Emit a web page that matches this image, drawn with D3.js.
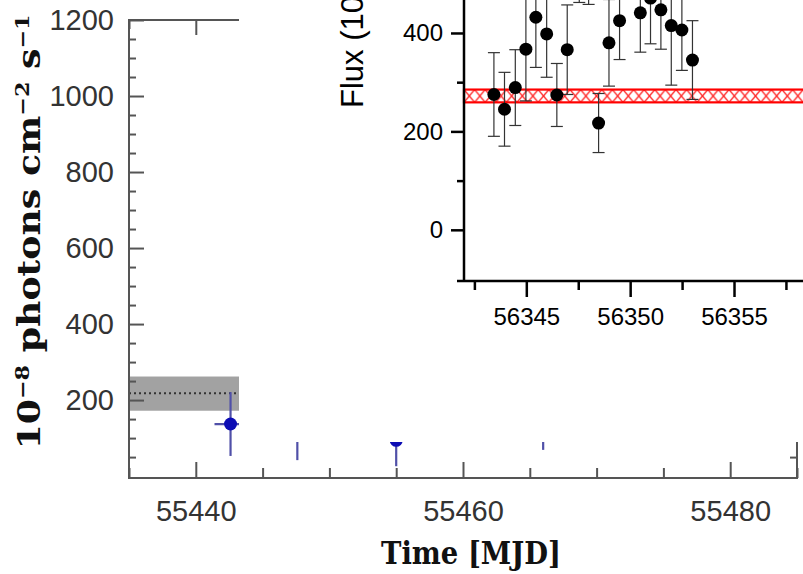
<!DOCTYPE html>
<html>
<head>
<meta charset="utf-8">
<script src="https://cdn.jsdelivr.net/npm/d3@7"></script>
<style>
  body { margin: 0; background: #fff; }
  svg { display: block; }
</style>
</head>
<body>
<div id="root"></div>
<script>
// ---- main light curve (left, MJD 55435 - 55485) ----
var mainTime = [55442.6, 55447.6, 55455.0, 55466.0];
var mainFlux = [137, 115, 94, 125];
var mainErr = [84, 73, 68, 56];
var mainTimeErr = [1.2, 1.2, 1.2, 1.2];
var meanFlux = 218;
var meanBand = [172, 262];
var mainXTicks = [55440, 55460, 55480];
var mainXMinor = [55435, 55445, 55450, 55455, 55465, 55470, 55475, 55485];
var mainYTicks = [200, 400, 600, 800, 1000, 1200];
var mainYMinor = [50, 100, 150, 250, 300, 350, 450, 500, 550, 650, 700, 750, 850, 900, 950, 1050, 1100, 1150];

// ---- inset (top right, MJD 56342 - 56359) ----
var insetTime = [56343.44, 56343.95, 56344.47, 56344.98, 56345.46, 56345.98, 56346.47, 56346.97, 56347.55,
  56348.0, 56348.48, 56348.98, 56349.49, 56350.49, 56350.98, 56351.48, 56351.98, 56352.49, 56353.0];
var insetFlux = [275, 245, 289, 367, 432, 398, 274, 366, 560, 550, 217, 380, 425, 441, 471, 447, 415, 406, 345];
var insetErr = [85, 75, 77, 105, 102, 88, 64, 91, 98, 92, 60, 88, 79, 80, 93, 80, 121, 82, 80];
var insetBand = [259, 285];
var insetXTicks = [56345, 56350, 56355];
var insetXMinor = [56342.5, 56347.5, 56352.5, 56357.5];
var insetYTicks = [0, 200, 400];
var insetYMinor = [100, 300];

var width = 803;
var height = 574;

var svg = d3.select('#root')
  .append('svg')
    .attr('width', width)
    .attr('height', height);

// main scales
var x = d3.scaleLinear().domain([55435, 55485]).range([129, 797]);
var y = d3.scaleLinear().domain([-5, 1200]).range([478, 20]);

var axisColor = '#555';
var sans = 'Liberation Sans, Arial, sans-serif';
var serif = 'DejaVu Serif, serif';
var plain = d3.format('d');

// mean flux band + dotted line
svg.append('rect')
  .attr('x', x(55435))
  .attr('y', y(meanBand[1]))
  .attr('width', x(55485) - x(55435))
  .attr('height', y(meanBand[0]) - y(meanBand[1]))
  .attr('fill', '#a2a2a2');

svg.append('line')
  .attr('x1', x(55435)).attr('x2', x(55485))
  .attr('y1', y(meanFlux)).attr('y2', y(meanFlux))
  .attr('stroke', '#333')
  .attr('stroke-width', 2)
  .attr('stroke-dasharray', '2,3');

// blue points
var mainData = mainTime.map(function(d, i) {
  return { t: d, f: mainFlux[i], e: mainErr[i], te: mainTimeErr[i] };
});

var pts = svg.append('g');
pts.selectAll('line.ve')
  .data(mainData)
  .enter().append('line')
    .attr('x1', function(d) { return x(d.t); })
    .attr('x2', function(d) { return x(d.t); })
    .attr('y1', function(d) { return y(d.f - d.e); })
    .attr('y2', function(d) { return y(d.f + d.e); })
    .attr('stroke', '#5050a8')
    .attr('stroke-width', 2.2);
pts.selectAll('line.he')
  .data(mainData)
  .enter().append('line')
    .attr('x1', function(d) { return x(d.t - d.te); })
    .attr('x2', function(d) { return x(d.t + d.te); })
    .attr('y1', function(d) { return y(d.f); })
    .attr('y2', function(d) { return y(d.f); })
    .attr('stroke', '#5050a8')
    .attr('stroke-width', 2.2);
pts.selectAll('circle')
  .data(mainData)
  .enter().append('circle')
    .attr('cx', function(d) { return x(d.t); })
    .attr('cy', function(d) { return y(d.f); })
    .attr('r', 6.5)
    .attr('fill', '#0c0cb4');

// frame
svg.append('rect')
  .attr('x', 129).attr('y', 20)
  .attr('width', 797 - 129).attr('height', 478 - 20)
  .attr('fill', 'none')
  .attr('stroke', axisColor)
  .attr('stroke-width', 2);

function styleAxis(g, color, w) {
  g.select('.domain').remove();
  g.selectAll('.tick line').attr('stroke', color).attr('stroke-width', w);
  g.selectAll('.tick text').attr('fill', color === axisColor ? '#333' : '#000');
}

// main axes, ticks pointing inward
var gl = svg.append('g').attr('transform', 'translate(129,0)')
  .call(d3.axisLeft(y).tickValues(mainYTicks).tickFormat(plain).tickSize(-15).tickPadding(15))
  .attr('font-family', sans).attr('font-size', 29);
styleAxis(gl, axisColor, 2);
styleAxis(svg.append('g').attr('transform', 'translate(129,0)')
  .call(d3.axisLeft(y).tickValues(mainYMinor).tickSize(-7).tickFormat('')), axisColor, 2);
styleAxis(svg.append('g').attr('transform', 'translate(797,0)')
  .call(d3.axisRight(y).tickValues(mainYTicks).tickSize(-15).tickFormat('')), axisColor, 2);
styleAxis(svg.append('g').attr('transform', 'translate(797,0)')
  .call(d3.axisRight(y).tickValues(mainYMinor).tickSize(-7).tickFormat('')), axisColor, 2);

var gb = svg.append('g').attr('transform', 'translate(0,478)')
  .call(d3.axisBottom(x).tickValues(mainXTicks).tickFormat(plain).tickSize(-16).tickPadding(22))
  .attr('font-family', sans).attr('font-size', 29);
styleAxis(gb, axisColor, 2);
styleAxis(svg.append('g').attr('transform', 'translate(0,478)')
  .call(d3.axisBottom(x).tickValues(mainXMinor).tickSize(-10).tickFormat('')), axisColor, 2);
styleAxis(svg.append('g').attr('transform', 'translate(0,20)')
  .call(d3.axisTop(x).tickValues(mainXTicks).tickSize(-15).tickFormat('')), axisColor, 2);
styleAxis(svg.append('g').attr('transform', 'translate(0,20)')
  .call(d3.axisTop(x).tickValues(mainXMinor).tickSize(-9).tickFormat('')), axisColor, 2);

// main axis titles
svg.append('text')
  .attr('x', 471).attr('y', 564)
  .attr('text-anchor', 'middle')
  .attr('font-family', serif).attr('font-weight', 'bold')
  .attr('font-size', 31)
  .attr('textLength', 180).attr('lengthAdjust', 'spacingAndGlyphs')
  .attr('fill', '#111')
  .text('Time [MJD]');

var yl = svg.append('text')
  .attr('transform', 'translate(40,232) rotate(-90)')
  .attr('text-anchor', 'middle')
  .attr('font-family', serif).attr('font-weight', 'bold')
  .attr('font-size', 31)
  .attr('textLength', 435).attr('lengthAdjust', 'spacingAndGlyphs')
  .attr('fill', '#111');
yl.append('tspan').text('10');
yl.append('tspan').attr('dy', -11).attr('font-size', 19).text('\u22128');
yl.append('tspan').attr('dy', 11).text(' photons cm');
yl.append('tspan').attr('dy', -11).attr('font-size', 19).text('\u22122');
yl.append('tspan').attr('dy', 11).text(' s');
yl.append('tspan').attr('dy', -11).attr('font-size', 19).text('\u22121');

// ---- inset ----
svg.append('rect')
  .attr('x', 239).attr('y', 0)
  .attr('width', width - 239).attr('height', 442)
  .attr('fill', '#fff');

var xi = d3.scaleLinear().domain([56342, 56359]).range([464, 464 + 17 * 20.77]);
var yi = d3.scaleLinear().domain([-104, 467]).range([281, 0]);

var defs = svg.append('defs');
var bandTop = yi(insetBand[1]);
var bandH = yi(insetBand[0]) - yi(insetBand[1]);
var pat = defs.append('pattern')
  .attr('id', 'xhatch')
  .attr('patternUnits', 'userSpaceOnUse')
  .attr('x', 464).attr('y', bandTop)
  .attr('width', 10.6).attr('height', bandH);
pat.append('path')
  .attr('d', 'M0,0L10.6,' + bandH + 'M10.6,0L0,' + bandH)
  .attr('stroke', '#ff1a1a')
  .attr('stroke-width', 1.3)
  .attr('fill', 'none');

svg.append('rect')
  .attr('x', 464).attr('y', bandTop)
  .attr('width', width - 464 + 5).attr('height', bandH)
  .attr('fill', 'url(#xhatch)')
  .attr('stroke', '#f00')
  .attr('stroke-width', 2.2);

var insetData = insetTime.map(function(d, i) {
  return { t: d, f: insetFlux[i], e: insetErr[i] };
});

var ig = svg.append('g');
var bars = ig.selectAll('g.bar')
  .data(insetData)
  .enter().append('g')
    .attr('stroke', '#333')
    .attr('stroke-width', 1.2);
bars.append('line')
  .attr('x1', function(d) { return xi(d.t); })
  .attr('x2', function(d) { return xi(d.t); })
  .attr('y1', function(d) { return yi(d.f - d.e); })
  .attr('y2', function(d) { return yi(d.f + d.e); });
bars.append('line')
  .attr('x1', function(d) { return xi(d.t) - 6; })
  .attr('x2', function(d) { return xi(d.t) + 6; })
  .attr('y1', function(d) { return yi(d.f - d.e); })
  .attr('y2', function(d) { return yi(d.f - d.e); });
bars.append('line')
  .attr('x1', function(d) { return xi(d.t) - 6; })
  .attr('x2', function(d) { return xi(d.t) + 6; })
  .attr('y1', function(d) { return yi(d.f + d.e); })
  .attr('y2', function(d) { return yi(d.f + d.e); });
ig.selectAll('circle')
  .data(insetData)
  .enter().append('circle')
    .attr('cx', function(d) { return xi(d.t); })
    .attr('cy', function(d) { return yi(d.f); })
    .attr('r', 6.5)
    .attr('fill', '#000');

// inset axes
svg.append('line')
  .attr('x1', 464).attr('x2', 464).attr('y1', 0).attr('y2', 281)
  .attr('stroke', '#000').attr('stroke-width', 2.5);
svg.append('line')
  .attr('x1', 457).attr('x2', width).attr('y1', 281).attr('y2', 281)
  .attr('stroke', '#000').attr('stroke-width', 2.5);

var iy = svg.append('g').attr('transform', 'translate(464,0)')
  .call(d3.axisLeft(yi).tickValues(insetYTicks).tickFormat(plain).tickSize(13).tickPadding(8))
  .attr('font-family', sans).attr('font-size', 24);
styleAxis(iy, '#000', 2.5);
styleAxis(svg.append('g').attr('transform', 'translate(464,0)')
  .call(d3.axisLeft(yi).tickValues(insetYMinor).tickSize(7).tickFormat('')), '#000', 2.5);

var ix = svg.append('g').attr('transform', 'translate(0,281)')
  .call(d3.axisBottom(xi).tickValues(insetXTicks).tickFormat(plain).tickSize(16).tickPadding(11))
  .attr('font-family', sans).attr('font-size', 24);
styleAxis(ix, '#000', 2.5);
styleAxis(svg.append('g').attr('transform', 'translate(0,281)')
  .call(d3.axisBottom(xi).tickValues(insetXMinor).tickSize(9).tickFormat('')), '#000', 2.5);

// inset y title, runs off the top edge as in the original figure
svg.append('text')
  .attr('transform', 'translate(363,108) rotate(-90)')
  .attr('font-family', sans)
  .attr('font-size', 31)
  .attr('fill', '#000')
  .text('Flux (10\u207B\u2078 ph cm\u207B\u00B2 s\u207B\u00B9)');
</script>
</body>
</html>
